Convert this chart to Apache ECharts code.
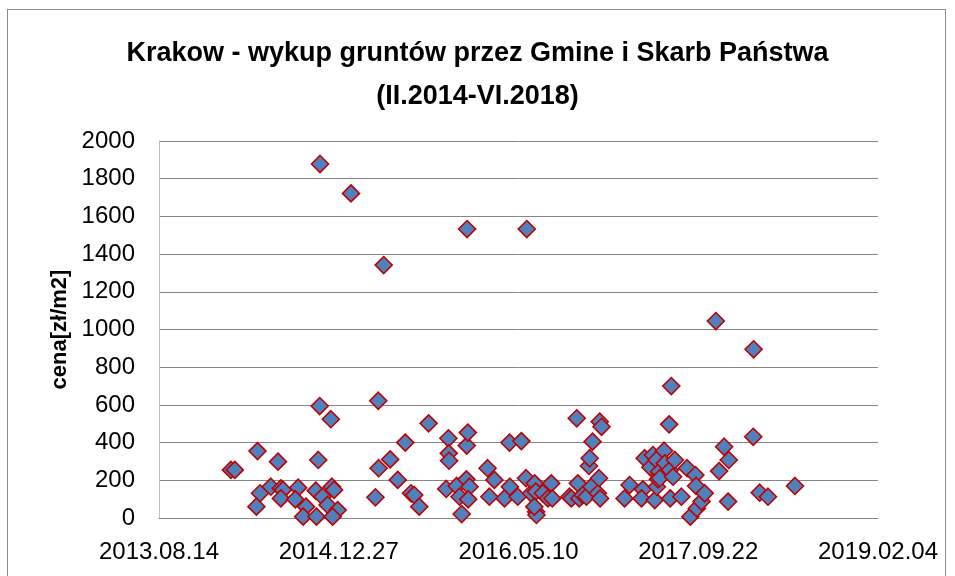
<!DOCTYPE html>
<html>
<head>
<meta charset="utf-8">
<script src="https://cdn.jsdelivr.net/npm/echarts@6/dist/echarts.min.js"></script>
<style>
  html, body { margin: 0; padding: 0; background: #ffffff; }
  #frame { position: absolute; left: 7px; top: 9px; width: 939px; height: 620px; border: 1px solid #8c8c8c; box-sizing: border-box; }
  #chart { position: absolute; left: 0; top: 0; width: 955px; height: 576px; }
</style>
</head>
<body>
<div id="frame"></div>
<div id="chart"></div>
<script>
// Excel date serials (days since 1899-12-30) of each purchase
const dates = [
  41700, 41711, 41774, 41781, 41771, 41811, 41831, 41839, 41845, 41839,
  41887, 41879, 41909, 41901, 41938, 41943, 41947, 41948, 41936, 41955,
  41969, 41978, 41981, 41987, 41997, 41983, 42034, 42102, 42110, 42111,
  42125, 42143, 42164, 42185, 42201, 42210, 42224, 42250,
  42299, 42305, 42306, 42307, 42328, 42336, 42342, 42356, 42357, 42359,
  42355, 42364, 42360, 42414, 42419, 42433, 42461, 42475, 42476, 42508,
  42498, 42521, 42523, 42535, 42549, 42550, 42545, 42548, 42544, 42568,
  42582, 42591, 42594, 42642, 42647, 42662, 42665, 42669, 42679, 42689,
  42696, 42698, 42703, 42706, 42721, 42724, 42726, 42731, 42727,
  42795, 42809, 42846, 42842, 42851, 42867, 42874, 42879, 42884, 42885,
  42888, 42891, 42893, 42905, 42907, 42919, 42921, 42922, 42925, 42930,
  42935, 42953, 42969, 42978, 42992, 42994, 42996, 43009, 43018, 43049,
  43058, 43072, 43083, 43085, 43153, 43154, 43171, 43194, 43269
];
// price per m2 [zł/m2]
const prices = [
  255, 255, 355, 131, 60, 166, 299, 157, 149, 104,
  161, 99, 60, 7, 7, 308, 594, 1878, 145, 113,
  69, 524, 166, 149, 42, 7, 1722, 110, 622, 264,
  1342, 311, 202, 400, 131, 122, 60, 502,
  154, 423, 343, 304, 170, 113, 21, 384, 1533, 453,
  205, 166, 99, 264, 113, 202, 104, 400, 166, 408,
  113, 211, 1533, 131, 33, 16, 184, 140, 60, 131,
  104, 184, 104, 113, 104, 529, 184, 104, 122, 113,
  276, 317, 166, 405, 131, 211, 511, 484, 104,
  104, 175, 152, 104, 317, 269, 334, 95, 308, 166,
  205, 246, 211, 357, 290, 497, 255, 104, 700, 219,
  308, 113, 264, 7, 228, 170, 51, 87, 131, 1045,
  249, 378, 87, 308, 431, 895, 134, 113, 170
];
const titleLines = ['Krakow - wykup gruntów przez Gmine i Skarb Państwa', '(II.2014-VI.2018)'];
const yAxisName = 'cena[zł/m2]';

const points = dates.map((d, i) => [d, prices[i]]);

function serialToLabel(v) {
  const t = new Date(Date.UTC(1899, 11, 30) + Math.round(v) * 86400000);
  const p = n => String(n).padStart(2, '0');
  return t.getUTCFullYear() + '.' + p(t.getUTCMonth() + 1) + '.' + p(t.getUTCDate());
}

const FONT = '"Liberation Sans", Arial, sans-serif';
const chart = echarts.init(document.getElementById('chart'), null, { renderer: 'canvas' });
chart.setOption({
  animation: false,
  backgroundColor: 'transparent',
  title: {
    text: titleLines.join('\n'),
    left: 'center',
    top: 27,
    textStyle: { fontFamily: FONT, fontSize: 27, fontWeight: 'bold', color: '#000', lineHeight: 43 }
  },
  grid: { left: 159, right: 77, top: 141, bottom: 58, containLabel: false },
  xAxis: {
    type: 'value',
    min: 41500, max: 43500, interval: 500,
    axisLine: { show: true, lineStyle: { color: '#868686', width: 1 } },
    axisTick: { show: false },
    splitLine: { show: false },
    axisLabel: {
      formatter: serialToLabel,
      fontFamily: FONT, fontSize: 24, color: '#000', margin: 22
    }
  },
  yAxis: {
    type: 'value',
    min: 0, max: 2000, interval: 200,
    name: yAxisName,
    nameLocation: 'middle',
    nameGap: 84,
    nameRotate: 90,
    nameTextStyle: { fontFamily: FONT, fontSize: 22, fontWeight: 'bold', color: '#000' },
    axisLine: { show: true, lineStyle: { color: '#bfbfbf', width: 1 } },
    axisTick: { show: false },
    splitLine: { show: true, lineStyle: { color: '#868686', width: 1 } },
    axisLabel: { formatter: v => String(v), fontFamily: FONT, fontSize: 24, color: '#000', margin: 24 }
  },
  series: [{
    type: 'scatter',
    data: points,
    symbol: 'diamond',
    symbolSize: 17,
    itemStyle: { color: '#4F81BD', borderColor: '#C00000', borderWidth: 1.6, opacity: 1 }
  }]
});
</script>
</body>
</html>
